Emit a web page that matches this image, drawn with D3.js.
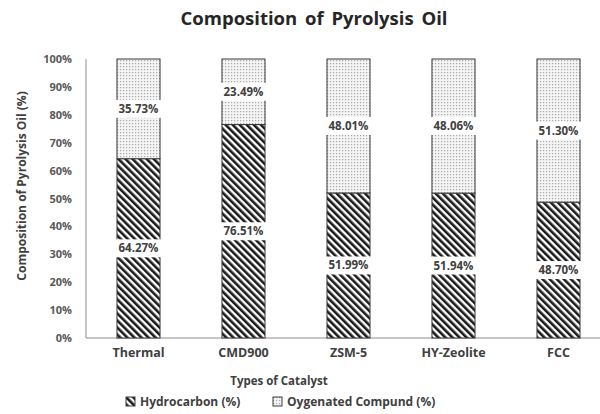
<!DOCTYPE html>
<html lang="en">
<head>
    <meta charset="UTF-8">
    <title>Composition of Pyrolysis Oil</title>
    <script src="https://d3js.org/d3.v7.min.js"></script>
    <style>
        body {
            margin: 0;
            background: white;
        }
        svg {
            display: block;
            font-family: 'Open Sans', sans-serif;
            font-weight: bold;
        }
    </style>
</head>
<body>
    <svg width="600" height="414"></svg>
    <script>
        const catalysts = ['Thermal', 'CMD900', 'ZSM-5', 'HY-Zeolite', 'FCC'];
        const hydrocarbon = [64.27, 76.51, 51.99, 51.94, 48.70];
        const oxygenated = [35.73, 23.49, 48.01, 48.06, 51.30];
        const seriesNames = ['Hydrocarbon (%)', 'Oygenated Compund (%)'];
        const yTicks = [0, 10, 20, 30, 40, 50, 60, 70, 80, 90, 100];

        const svg = d3.select('svg');
        const defs = svg.append('defs');

        // diagonal hatch for hydrocarbon
        const hatch = defs.append('pattern')
            .attr('id', 'hatch')
            .attr('patternUnits', 'userSpaceOnUse')
            .attr('width', 5)
            .attr('height', 10)
            .attr('patternTransform', 'rotate(-45)');
        hatch.append('rect').attr('width', 5).attr('height', 10).attr('fill', 'white');
        hatch.append('rect').attr('width', 2.6).attr('height', 10).attr('fill', '#1a1a1a');

        // dotted fill for oxygenated
        const dots = defs.append('pattern')
            .attr('id', 'dots')
            .attr('patternUnits', 'userSpaceOnUse')
            .attr('width', 3)
            .attr('height', 3);
        dots.append('rect').attr('width', 3).attr('height', 3).attr('fill', '#f4f4f4');
        dots.append('rect').attr('width', 1.2).attr('height', 1.2).attr('fill', '#a8a8a8');

        const x = d3.scaleBand()
            .domain(catalysts)
            .range([86, 611])
            .paddingInner(0.59)
            .paddingOuter(0.295);

        const y = d3.scaleLinear()
            .domain([0, 100])
            .range([338, 59]);

        // title
        svg.append('text')
            .attr('x', 314)
            .attr('y', 25)
            .attr('text-anchor', 'middle')
            .style('font-size', '18.5px')
            .style('fill', '#262626')
            .style('word-spacing', '3px')
            .text('Composition of Pyrolysis Oil');

        // axes lines
        svg.append('line')
            .attr('x1', 86).attr('x2', 86)
            .attr('y1', y(100)).attr('y2', y(0))
            .attr('stroke', '#8c8c8c').attr('stroke-width', 1);
        svg.append('line')
            .attr('x1', 86).attr('x2', 600)
            .attr('y1', y(0)).attr('y2', y(0))
            .attr('stroke', '#8c8c8c').attr('stroke-width', 1);

        // y tick labels
        svg.append('g').selectAll('text')
            .data(yTicks)
            .enter().append('text')
            .attr('x', 72)
            .attr('y', d => y(d) + 4)
            .attr('text-anchor', 'end')
            .style('font-size', '11px')
            .style('fill', '#595959')
            .text(d => d + '%');

        // x tick labels
        svg.append('g').selectAll('text')
            .data(catalysts)
            .enter().append('text')
            .attr('x', d => x(d) + x.bandwidth() / 2)
            .attr('y', 357)
            .attr('text-anchor', 'middle')
            .style('font-size', '12.5px')
            .style('fill', '#404040')
            .text(d => d);

        // axis titles
        svg.append('text')
            .attr('x', 279)
            .attr('y', 385)
            .attr('text-anchor', 'middle')
            .style('font-size', '11.5px')
            .style('fill', '#404040')
            .text('Types of Catalyst');

        svg.append('text')
            .attr('transform', 'translate(26,186) rotate(-90)')
            .attr('text-anchor', 'middle')
            .style('font-size', '12px')
            .style('fill', '#404040')
            .text('Composition of Pyrolysis Oil (%)');

        // stacked bars
        const rows = catalysts.map((c, i) => ({ cat: c, h: hydrocarbon[i], o: oxygenated[i] }));

        const bars = svg.append('g').selectAll('g')
            .data(rows)
            .enter().append('g');

        bars.append('rect')
            .attr('x', d => x(d.cat))
            .attr('y', d => y(d.h))
            .attr('width', x.bandwidth())
            .attr('height', d => y(0) - y(d.h))
            .attr('fill', 'url(#hatch)')
            .attr('stroke', '#3a3a3a')
            .attr('stroke-width', 1);

        bars.append('rect')
            .attr('x', d => x(d.cat))
            .attr('y', d => y(d.h + d.o))
            .attr('width', x.bandwidth())
            .attr('height', d => y(d.h) - y(d.h + d.o))
            .attr('fill', 'url(#dots)')
            .attr('stroke', '#3a3a3a')
            .attr('stroke-width', 1);

        // data labels with white boxes
        function addLabel(sel, yFn, valFn) {
            const g = sel.append('g')
                .attr('transform', d => 'translate(' + (x(d.cat) + x.bandwidth() / 2) + ',' + yFn(d) + ')');
            g.append('rect')
                .attr('x', -25)
                .attr('y', -9)
                .attr('width', 50)
                .attr('height', 18)
                .attr('fill', 'white');
            g.append('text')
                .attr('y', 4)
                .attr('text-anchor', 'middle')
                .style('font-size', '11.5px')
                .style('fill', '#404040')
                .text(d => valFn(d).toFixed(2) + '%');
        }
        addLabel(bars, d => y(d.h / 2), d => d.h);
        addLabel(bars, d => y(d.h + d.o / 2), d => d.o);

        // legend
        const legend = svg.append('g').attr('transform', 'translate(0,406)');
        const legendItems = [
            { name: seriesNames[0], fill: 'url(#hatch)', x: 126 },
            { name: seriesNames[1], fill: 'url(#dots)', x: 273 }
        ];
        const li = legend.selectAll('g')
            .data(legendItems)
            .enter().append('g')
            .attr('transform', d => 'translate(' + d.x + ',0)');
        li.append('rect')
            .attr('x', 0)
            .attr('y', -9)
            .attr('width', 9)
            .attr('height', 9)
            .attr('fill', d => d.fill)
            .attr('stroke', '#3a3a3a')
            .attr('stroke-width', 1);
        li.append('text')
            .attr('x', 14)
            .attr('y', 0)
            .style('font-size', '12px')
            .style('fill', '#404040')
            .text(d => d.name);
    </script>
</body>
</html>
